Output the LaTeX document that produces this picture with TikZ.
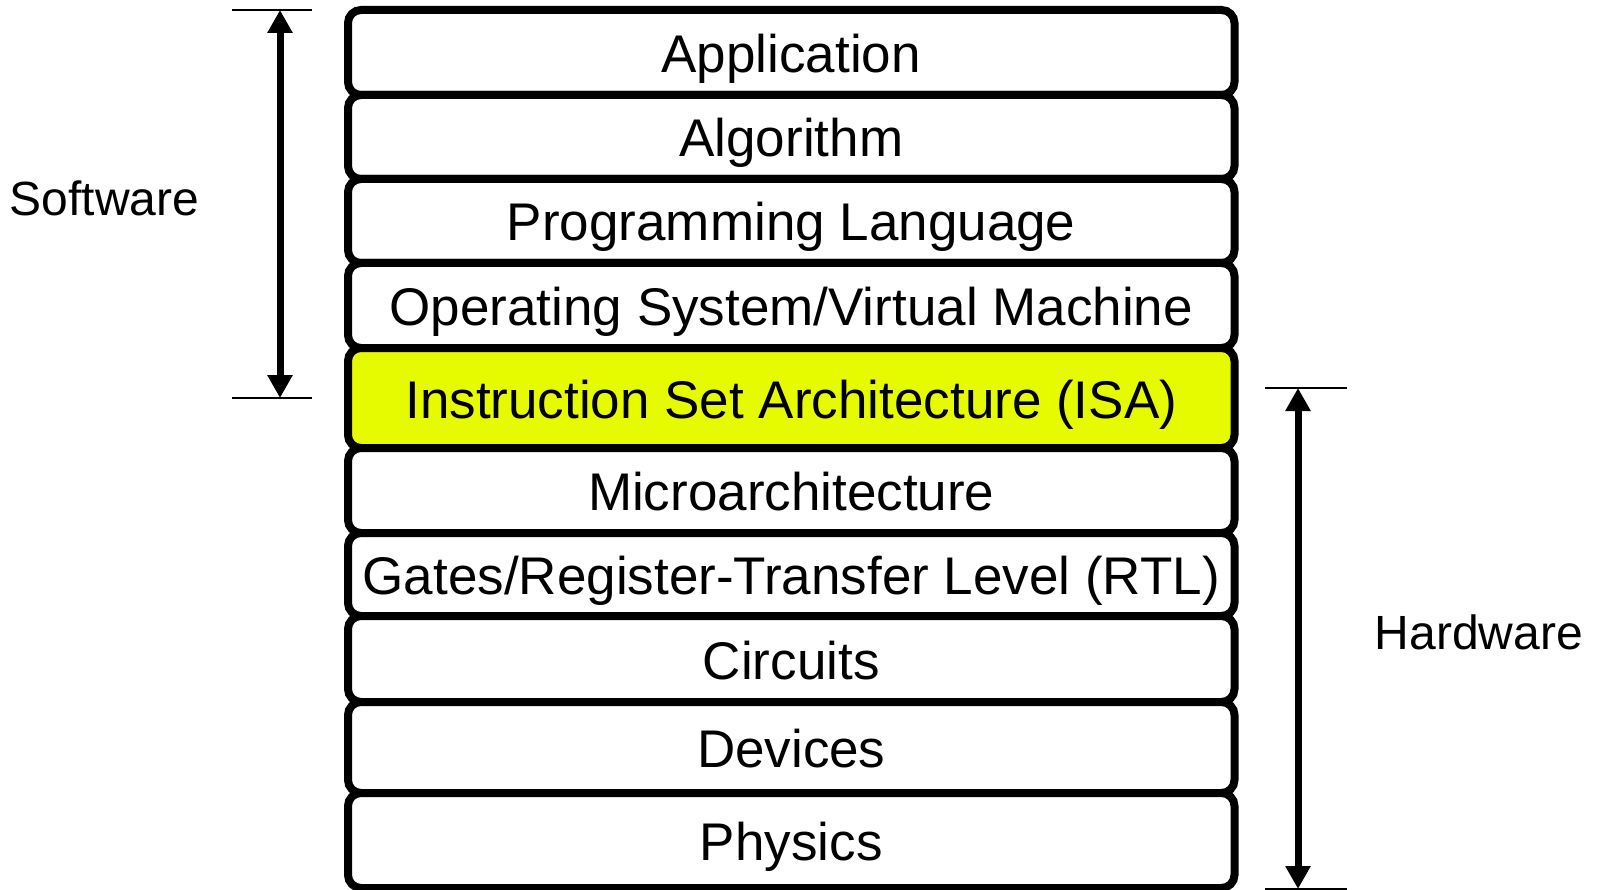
\documentclass[tikz,border=0pt]{standalone}
\usepackage{fontspec}
\setmainfont{Liberation Sans}
\usetikzlibrary{arrows.meta}
\definecolor{isayellow}{RGB}{230,250,0}
\begin{document}
\begin{tikzpicture}[x=1pt,y=-1pt,
  layer/.style={draw=black, line width=8pt, rounded corners=13pt, fill=white,
    minimum width=886.5pt, inner sep=0pt, text height=40pt, text depth=0pt,
    font=\fontsize{53pt}{60pt}\selectfont},
  bigarrow/.style={line width=7pt,
    {Triangle[length=23pt,width=24pt]}-{Triangle[length=23pt,width=24pt]}},
  tickline/.style={line width=1.5pt},
  side/.style={font=\fontsize{48pt}{56pt}\selectfont, anchor=base, inner sep=0pt}]
\useasboundingbox (0,0) rectangle (1597,890);
\node[layer, minimum height=85pt] (app) at (791.25,52.5) {Application};
\node[layer, minimum height=84pt] (alg) at (791.25,137) {Algorithm};
\node[layer, minimum height=84pt] (prog) at (791.25,221) {Programming Language};
\node[layer, minimum height=85pt] (os) at (791.25,305.5) {Operating System/Virtual Machine};
\node[layer, minimum height=100pt, fill=isayellow] (isa) at (791.25,398) {Instruction Set Architecture (ISA)};
\node[layer, minimum height=85pt] (micro) at (791.25,490.5) {Microarchitecture};
\node[layer, minimum height=83pt] (gates) at (791.25,574.5) {Gates/Register-Transfer Level (RTL)};
\node[layer, minimum height=86pt] (circ) at (791.25,659) {Circuits};
\node[layer, minimum height=91pt] (dev) at (791.25,747.5) {Devices};
\node[layer, minimum height=95pt] (phys) at (791.25,840.5) {Physics};
% software bracket
\coordinate (swtop) at (280,10);
\coordinate (swbot) at (280,398);
\coordinate (swtl) at (232,10);
\coordinate (swtr) at (312,10);
\coordinate (swbl) at (232,398);
\coordinate (swbr) at (312,398);
\draw[tickline] (swtl) -- (swtr);
\draw[tickline] (swbl) -- (swbr);
\draw[bigarrow] (swtop) -- (swbot);
\node[side] (sw) at (104.5,216) {Software};
% hardware bracket
\coordinate (hwtop) at (1298,388);
\coordinate (hwbot) at (1298,889);
\coordinate (hwtl) at (1265,388);
\coordinate (hwtr) at (1347,388);
\coordinate (hwbl) at (1265,889);
\coordinate (hwbr) at (1347,889);
\draw[tickline] (hwtl) -- (hwtr);
\draw[tickline] (hwbl) -- (hwbr);
\draw[bigarrow] (hwtop) -- (hwbot);
\node[side] (hw) at (1479,649) {Hardware};
\end{tikzpicture}
\end{document}
